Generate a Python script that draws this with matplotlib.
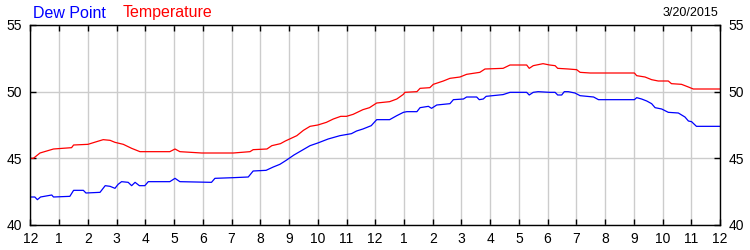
import matplotlib.pyplot as plt

# values (x in hours since midnight)
temp_hours = [0, 0.1, 0.33, 0.8, 1.43, 1.5, 2.0, 2.3, 2.53, 2.77, 2.94, 3.23, 3.52, 3.81,
              4.85, 5.03, 5.2, 5.96, 7.06, 7.64, 7.75, 8.23, 8.4, 8.7, 8.87, 9.27, 9.5,
              9.73, 10.0, 10.3, 10.54, 10.8, 11.0, 11.23, 11.57, 11.8, 12.05, 12.5, 12.75,
              12.98, 13.03, 13.45, 13.56, 13.9, 14.02, 14.37, 14.6, 14.95, 15.18, 15.64,
              15.82, 16.45, 16.69, 17.27, 17.36, 17.5, 17.84, 18.07, 18.26, 18.35, 18.72,
              19.01, 19.13, 19.48, 21.02, 21.1, 21.39, 21.62, 21.85, 22.2, 22.31, 22.66,
              22.9, 23.07, 24.0]
temp = [45.0, 45.0, 45.4, 45.7, 45.8, 46.0, 46.05, 46.25, 46.4, 46.35, 46.2, 46.05, 45.75, 45.5,
        45.5, 45.7, 45.5, 45.4, 45.4, 45.5, 45.65, 45.7, 45.95, 46.1, 46.3, 46.7, 47.1,
        47.4, 47.5, 47.7, 47.95, 48.15, 48.15, 48.3, 48.65, 48.8, 49.15, 49.25, 49.45,
        49.8, 49.95, 50.0, 50.25, 50.3, 50.55, 50.8, 51.0, 51.1, 51.3, 51.45,
        51.7, 51.75, 52.0, 52.0, 51.75, 51.95, 52.1, 52.0, 51.95, 51.75, 51.7,
        51.65, 51.45, 51.4, 51.4, 51.2, 51.1, 50.9, 50.8, 50.8, 50.6, 50.55,
        50.35, 50.2, 50.2]

dew_hours = [0, 0.15, 0.24, 0.35, 0.74, 0.8, 1.37, 1.5, 1.84, 1.93, 2.42, 2.6, 2.77, 2.94,
             3.05, 3.17, 3.4, 3.52, 3.64, 3.79, 3.98, 4.1, 4.85, 5.03, 5.2, 6.3, 6.42,
             7.06, 7.58, 7.75, 8.2, 8.45, 8.68, 8.9, 9.17, 9.45, 9.73, 10.0, 10.36,
             10.77, 11.17, 11.35, 11.57, 11.86, 12.05, 12.5, 12.75, 12.98, 13.1, 13.45,
             13.56, 13.85, 13.96, 14.14, 14.6, 14.72, 15.07, 15.18, 15.53, 15.62,
             15.76, 15.86, 16.45, 16.69, 17.27, 17.36, 17.5, 17.67, 18.07, 18.26,
             18.35, 18.49, 18.58, 18.72, 18.95, 19.13, 19.6, 19.77, 21.02, 21.1, 21.27,
             21.45, 21.62, 21.74, 21.97, 22.2, 22.55, 22.78, 22.9, 23.01, 23.18, 24.0]
dew = [42.1, 42.1, 41.9, 42.1, 42.25, 42.1, 42.15, 42.6, 42.6, 42.4, 42.45, 42.95, 42.9, 42.75,
       43.05, 43.25, 43.2, 42.95, 43.2, 42.95, 42.95, 43.25, 43.25, 43.5, 43.25, 43.2, 43.5,
       43.55, 43.6, 44.05, 44.1, 44.35, 44.55, 44.85, 45.25, 45.6, 45.95, 46.15, 46.45,
       46.7, 46.85, 47.05, 47.2, 47.45, 47.9, 47.9, 48.2, 48.45, 48.5, 48.5,
       48.8, 48.9, 48.75, 49.0, 49.1, 49.4, 49.45, 49.6, 49.6, 49.4,
       49.45, 49.65, 49.78, 49.95, 49.95, 49.75, 49.95, 50.0, 49.95, 49.95,
       49.75, 49.75, 50.0, 50.0, 49.9, 49.7, 49.6, 49.4, 49.4, 49.55, 49.45,
       49.3, 49.1, 48.8, 48.7, 48.45, 48.4, 48.1, 47.8, 47.75, 47.4, 47.4]

hour_labels = ['12'] + [str(i) for i in range(1, 12)] + ['12'] + [str(i) for i in range(1, 12)] + ['12']
y_ticks = [40, 45, 50, 55]
date_text = '3/20/2015'

plt.rcParams['font.family'] = ['Liberation Sans', 'DejaVu Sans']

fig = plt.figure(figsize=(7.5, 2.5), dpi=100)
ax = fig.add_axes([30.5 / 750, 0.1, (720 - 30.5) / 750, 0.8])

ax.plot(temp_hours, temp, color='#ff0000', lw=0.9)
ax.plot(dew_hours, dew, color='#0000ff', lw=0.9)

ax.set_xlim(0, 24)
ax.set_ylim(40, 55)
ax.set_xticks(range(25))
ax.set_xticklabels(hour_labels)
ax.set_yticks(y_ticks)
ax.grid(True, color='#cccccc', lw=1)
ax.set_axisbelow(True)
ax.tick_params(direction='in', length=4, width=1, labelsize=10, top=True, right=True,
               labelright=True)
ax.tick_params(axis='x', pad=5)
ax.tick_params(axis='y', pad=6)
for s in ax.spines.values():
    s.set_linewidth(1)

fig.text(33 / 750, 1 - 13 / 250, 'Dew Point', color='#0000ff', fontsize=11.5, va='center')
fig.text(123 / 750, 1 - 13 / 250, 'Temperature', color='#ff0000', fontsize=11.5, va='center')
fig.text(718 / 750, 1 - 13 / 250, date_text, color='black', fontsize=9, va='center', ha='right')

fig.savefig('out.png', dpi=100)
